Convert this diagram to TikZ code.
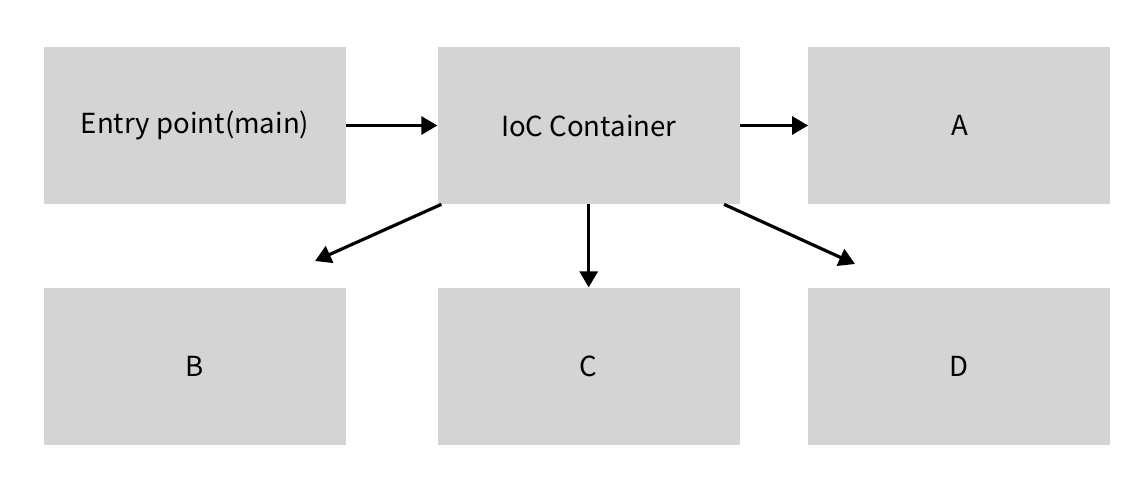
\documentclass[tikz,border=0pt]{standalone}
\usepackage{fontspec}
\setmainfont{Noto Sans CJK KR}
\usetikzlibrary{positioning,arrows.meta}
\definecolor{boxgray}{RGB}{212,212,212}

\tikzstyle{block} =[rectangle, fill=boxgray, text centered, minimum width = 6.04cm, minimum height = 3.14cm, font=\fontsize{15.7}{18}\selectfont]
\tikzstyle{line} = [draw, line width=1.8pt, -{Triangle[length=0.32cm,width=0.36cm]}]

\begin{document}
\begin{tikzpicture}
  \useasboundingbox (0,0) rectangle (22.84,-9.64);

  \node[block] (entry) at (3.9,-2.51) {Entry point(main)};
  \node[block, right = 1.82cm of entry] (ioc) {IoC Container};
  \node[block, right = 1.36cm of ioc] (a) {A};
  \node[block, below = 1.66cm of entry] (b) {B};
  \node[block, below = 1.66cm of ioc] (c) {C};
  \node[block, below = 1.66cm of a] (d) {D};

  \coordinate (tob) at (6.3,-5.22);
  \coordinate (tod) at (17.1,-5.28);

  \path [line] (entry) -- (ioc);
  \path [line] (ioc) -- (a);
  \path [line] ([xshift=0.08cm]ioc.south west) -- (tob);
  \path [line] (ioc) -- (c);
  \path [line] ([xshift=-0.32cm]ioc.south east) -- (tod);

\end{tikzpicture}
\end{document}
